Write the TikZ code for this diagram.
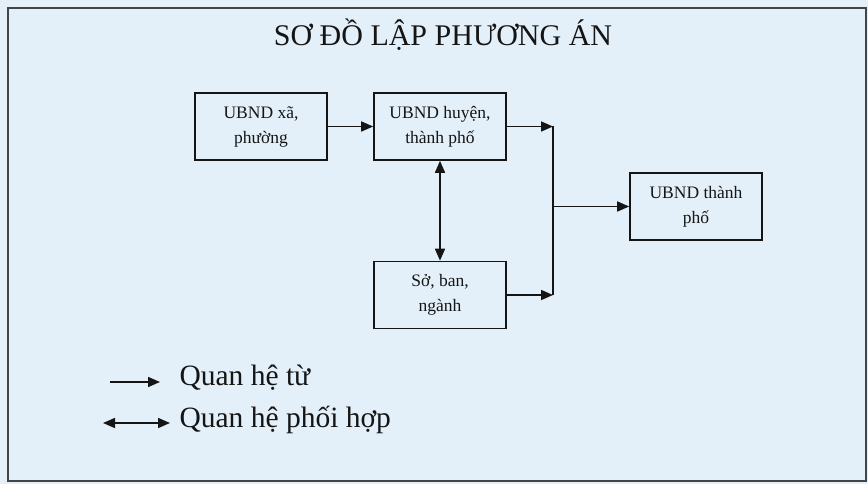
\documentclass[tikz,border=0pt]{standalone}
\usepackage{fontspec}
\setmainfont{Liberation Serif}
\usepackage{xcolor}
\usetikzlibrary{arrows.meta}
\definecolor{paper}{HTML}{E4F0F9}
\definecolor{ink}{HTML}{151515}
\tikzset{box/.style={draw=ink, line width=1.6pt, minimum width=132pt, minimum height=67pt, align=center, font=\fontsize{17.5}{25}\selectfont, text=ink}}
\tikzset{link/.style={draw=ink, line width=1.6pt, -{Triangle[length=12pt,width=10pt]}}}
\tikzset{both/.style={link, {Triangle[length=12pt,width=10pt]}-{Triangle[length=12pt,width=10pt]}}}
\begin{document}
\begin{tikzpicture}[x=1pt,y=-1pt]
\useasboundingbox (0,0) rectangle (868,484);
\fill[paper] (0,0) rectangle (868,484);
\draw[ink!80, line width=1.8pt] (8,8) rectangle (866,481);
\node[text=ink, font=\fontsize{30}{34}\selectfont] (title) at (443,35) {SƠ ĐỒ LẬP PHƯƠNG ÁN};
% boxes
\node[box] (xa) at (261,126.5) {UBND xã,\\phường};
\node[box] (huyen) at (440,126.5) {UBND huyện,\\thành phố};
\node[box] (so) at (440,295) {Sở, ban,\\ngành};
\node[box] (tp) at (696,206.5) {UBND thành\\phố};
\coordinate (join) at (553,206.5);
% connectors
\draw[link] (xa) -- (huyen);
\draw[link] (huyen.east) -- (huyen.east -| join);
\draw[link] (so.east) -- (so.east -| join);
\draw[draw=ink, line width=1.6pt] (huyen.east -| join) -- (so.east -| join);
\draw[link] (join) -- (tp);
\draw[both] (huyen) -- (so);
% legend
\coordinate (la) at (110,382);
\coordinate (lb) at (160,382);
\coordinate (lc) at (103,423);
\coordinate (ld) at (170,423);
\draw[link] (la) -- (lb);
\draw[both] (lc) -- (ld);
\node[anchor=west, text=ink, font=\fontsize{29.5}{34}\selectfont] (from) at (176,378) {Quan hệ từ};
\node[anchor=west, text=ink, font=\fontsize{29.5}{34}\selectfont] (coop) at (176,420) {Quan hệ phối hợp};
\end{tikzpicture}
\end{document}
